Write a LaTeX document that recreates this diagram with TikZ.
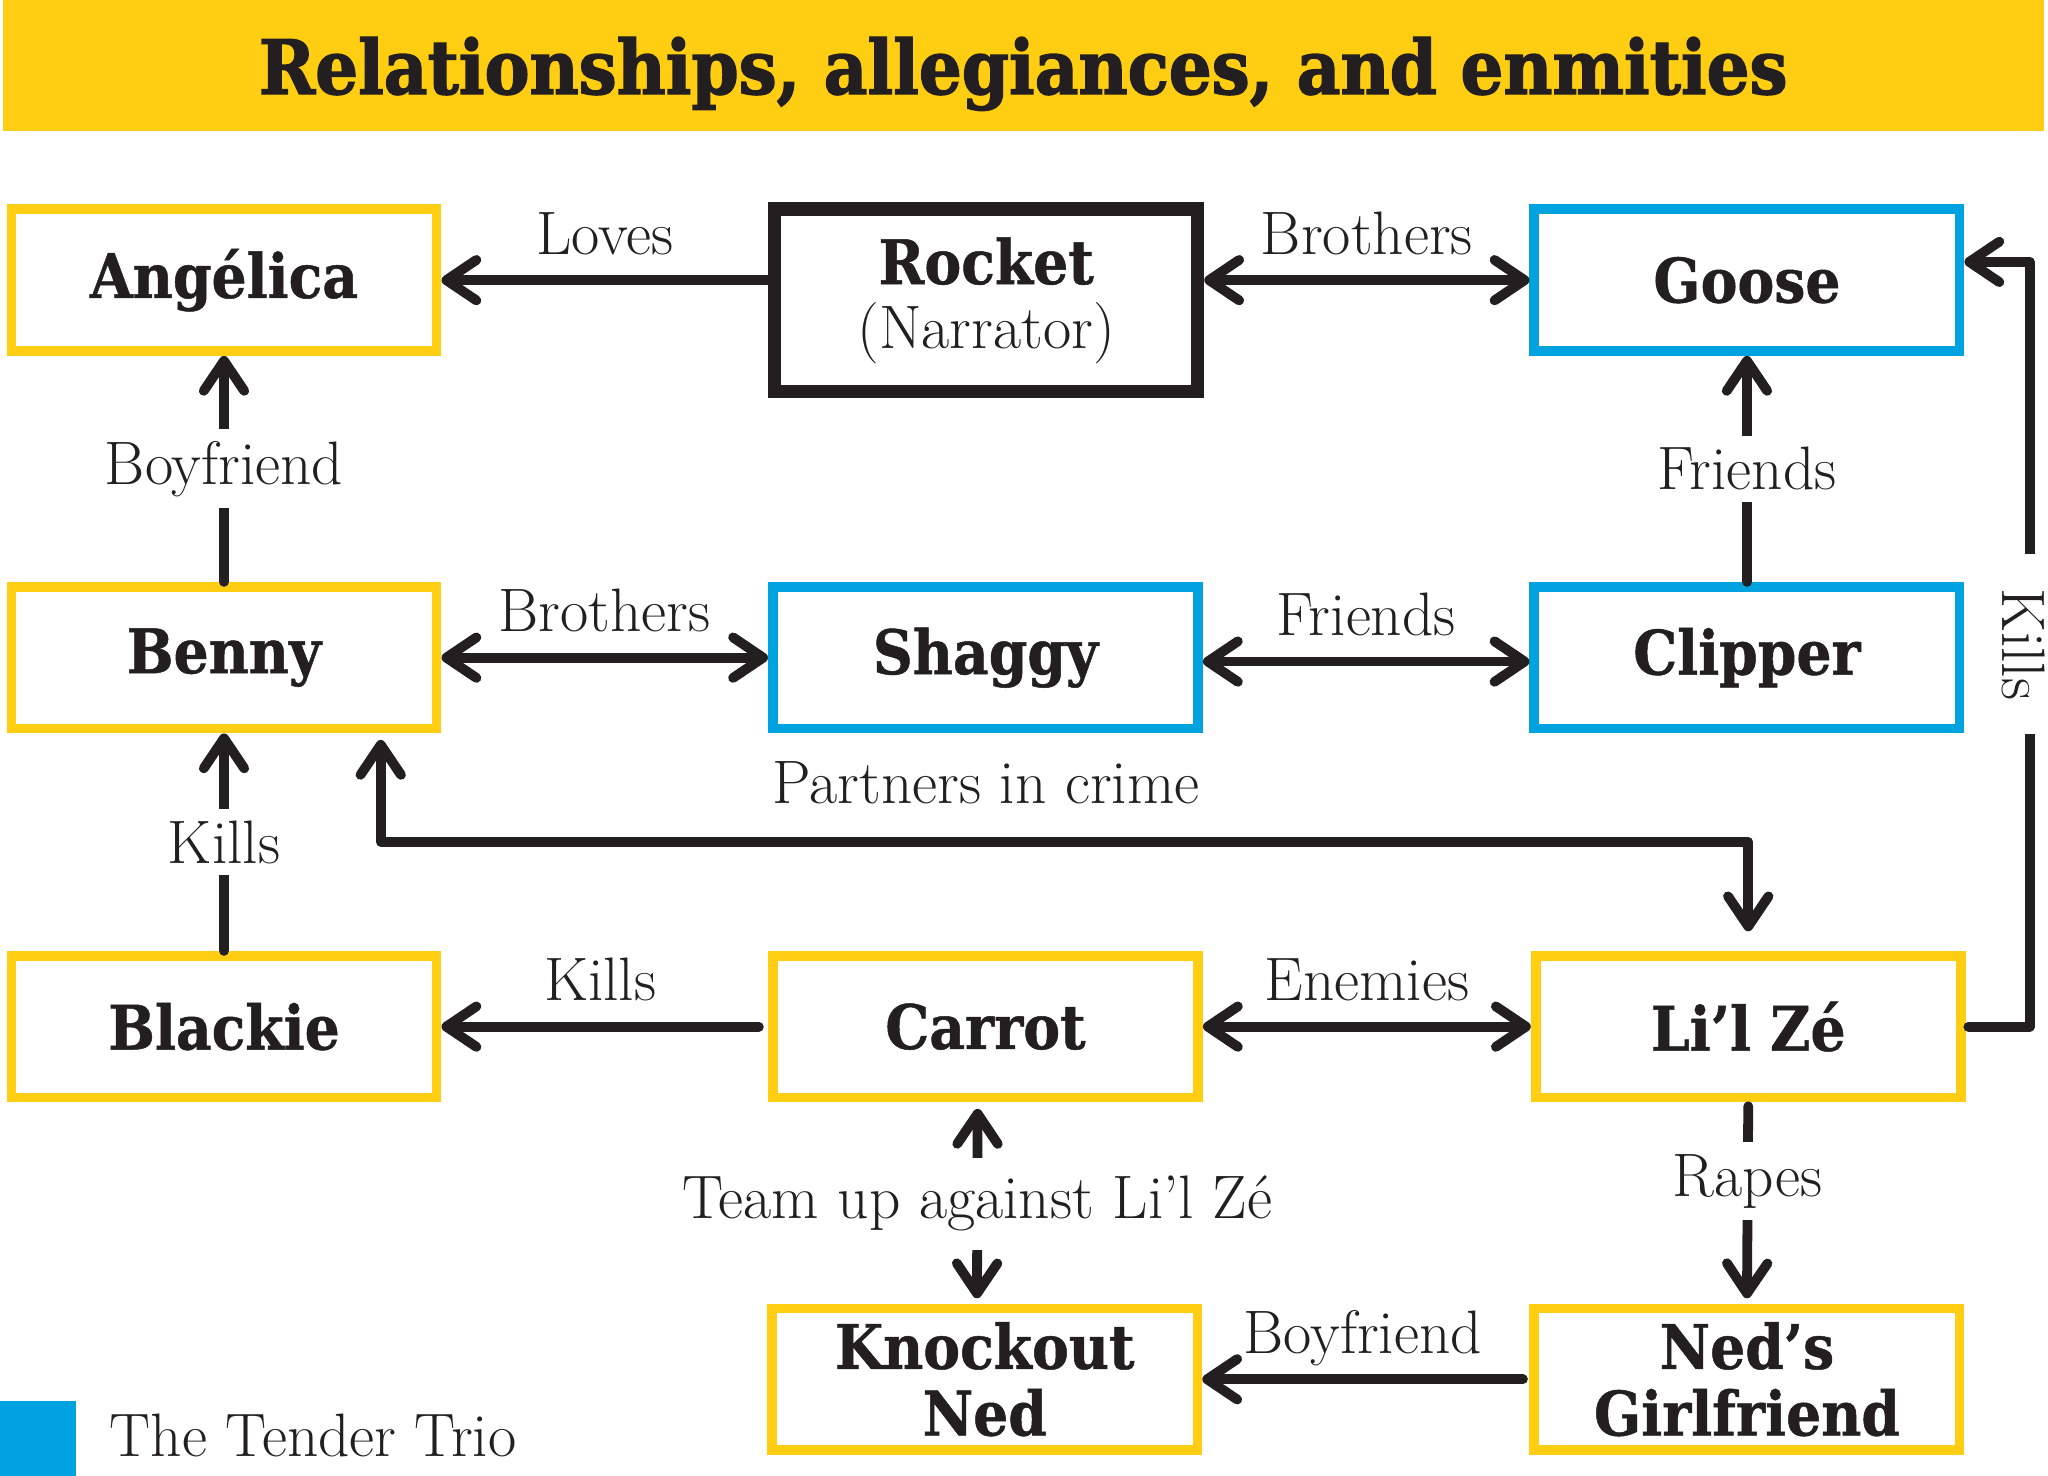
\documentclass[tikz,border=0pt]{standalone}
\usepackage{fontspec}
\setmainfont{Latin Modern Roman}
\newfontfamily\boxfont{DejaVu Serif Condensed Bold}[FakeBold=0.8]
\newfontfamily\titlefont{DejaVu Serif Condensed Bold}[FakeBold=1.8]
\usetikzlibrary{arrows.meta,calc}
\definecolor{ttyellow}{RGB}{255,205,17}
\definecolor{ttblue}{RGB}{0,163,224}
\definecolor{ttblack}{RGB}{35,31,32}
\newcommand{\lblfont}{\fontsize{47}{52}\selectfont}
\newcommand{\bxfont}{\boxfont\fontsize{47}{51}\selectfont}
\tikzset{
  box/.style={draw=ttyellow, line width=7.5pt, fill=white, minimum width=325.5pt,
    minimum height=108.5pt, inner sep=0pt, font=\bxfont, text=ttblack, align=center},
  bluebox/.style={box, draw=ttblue},
  blackbox/.style={box, draw=ttblack, line width=10pt, minimum width=324pt, minimum height=140pt},
  conn/.style={draw=ttblack, line width=7.5pt, line cap=round, line join=round,
    >={Straight Barb[length=23pt,width=31pt,round]}},
  lbl/.style={font=\lblfont, text=ttblack, inner sep=0pt, anchor=base},
  vlbl/.style={font=\lblfont, text=ttblack, fill=white, inner xsep=4pt, inner ysep=9pt},
}
\begin{document}
\begin{tikzpicture}[x=1pt,y=-1pt]
\useasboundingbox (0,0) rectangle (1568,1130);
% title
\fill[ttyellow] (2,0) rectangle (1565,100);
\node[font=\titlefont\fontsize{57.5}{60}\selectfont, text=ttblack, anchor=base, inner sep=0pt] (title) at (783.5,72) {Relationships, allegiances, and enmities};
% boxes
\node[box] (ang) at (171.5,214.5) {Angélica};
\node[blackbox] (rocket) at (755,230) {Rocket\\[-2pt]{\fontspec{Latin Modern Roman}\lblfont (Narrator)}};
\node[bluebox] (goose) at (1337.5,214.5) {Goose};
\node[box] (benny) at (171.5,503.5) {Benny};
\node[bluebox] (shaggy) at (754.5,503.5) {Shaggy};
\node[bluebox] (clipper) at (1337.5,503.5) {Clipper};
\node[box] (blackie) at (171.5,786) {Blackie};
\node[box] (carrot) at (754.5,786) {Carrot};
\node[box] (lilze) at (1338.5,786) {Li’l Zé};
\node[box] (kned) at (754,1056) {Knockout\\Ned};
\node[box] (nedgf) at (1337.5,1056) {Ned’s\\Girlfriend};
% connectors
\draw[conn,->] (rocket.west |- ang.east) -- node[lbl,yshift=20pt] (l1) {Loves} (ang.east);
\draw[conn,<->] (rocket.east |- goose.west) -- node[lbl,yshift=20pt] (l2) {Brothers} (goose.west);
\draw[conn,->] (benny.north) -- node[vlbl] (l3) {Boyfriend} (ang.south);
\draw[conn,->] (clipper.north) -- node[vlbl] (l4) {Friends} (goose.south);
\draw[conn,<->] (benny.east) -- node[lbl,yshift=20pt] (l5) {Brothers} (shaggy.west);
\draw[conn,<->] ([yshift=-3pt]shaggy.east) -- node[lbl,yshift=20pt] (l6) {Friends} ([yshift=-3pt]clipper.west);
\draw[conn,->] (blackie.north) -- node[vlbl] (l7) {Kills} (benny.south);
\draw[conn,<->] ([xshift=120pt,yshift=-5pt]benny.south) -- ++(0,78) -| ([yshift=15pt]lilze.north);
\node[lbl] (l8) at (755,615) {Partners in crime};
\draw[conn,->] ([xshift=2pt]lilze.east) -- ++(47,0) |- node[pos=0.25, vlbl, xshift=-5pt, rotate=-90, inner xsep=26pt, inner ysep=2pt] (l9) {Kills} ([yshift=14pt]goose.east);
\draw[conn,->] ([xshift=-7pt]carrot.west) -- node[lbl,yshift=20pt] (l10) {Kills} (blackie.east);
\draw[conn,<->] (carrot.east) -- node[lbl,yshift=20pt] (l11) {Enemies} (lilze.west);
\draw[conn,<->] ([xshift=-6pt,yshift=-5pt]carrot.south) -- node[vlbl, inner ysep=14pt] (l12) {Team up against Li’l Zé} ([xshift=-6pt,yshift=4pt]kned.north);
\draw[conn,->] ([yshift=-3pt]lilze.south) -- node[vlbl, pos=0.39] (l13) {Rapes} ([yshift=4pt]nedgf.north);
\draw[conn,->] ([xshift=-5pt]nedgf.west) -- node[lbl,yshift=20pt] (l14) {Boyfriend} (kned.east);
% legend
\fill[ttblue] (0,1073) rectangle (58,1130);
\node[lbl, anchor=base west] (leg) at (84,1115) {The Tender Trio};
\end{tikzpicture}
\end{document}
